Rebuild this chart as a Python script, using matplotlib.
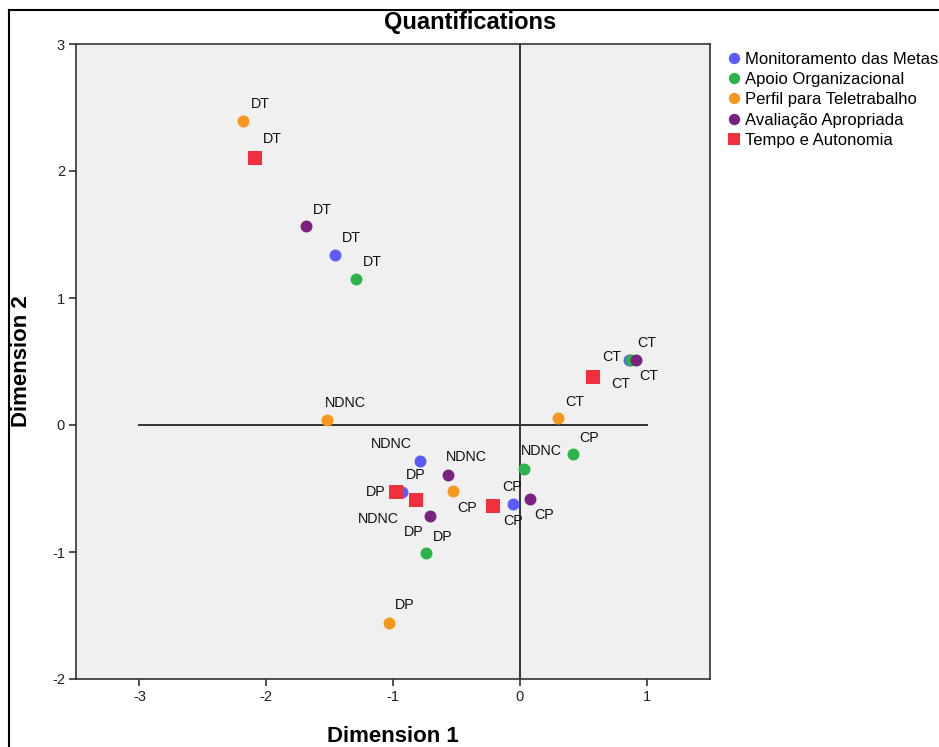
#!/usr/bin/env python3
"""Quantifications plot (category points for two dimensions)."""

import matplotlib

matplotlib.use("Agg")
import matplotlib.pyplot as plt
from matplotlib.lines import Line2D

plt.rcParams["font.family"] = ["Liberation Sans", "DejaVu Sans"]
plt.rcParams["axes.unicode_minus"] = False

# category labels, same order for every variable
CATEGORIES = ["DT", "CT", "NDNC", "CP", "DP"]

MONITORAMENTO_X = [-1.46, 0.86, -0.79, -0.05, -0.93]
MONITORAMENTO_Y = [1.335, 0.515, -0.28, -0.62, -0.53]

APOIO_X = [-1.29, 0.88, 0.03, 0.42, -0.74]
APOIO_Y = [1.15, 0.515, -0.345, -0.23, -1.01]

PERFIL_X = [-2.18, 0.30, -1.52, -0.53, -1.03]
PERFIL_Y = [2.39, 0.053, 0.04, -0.52, -1.56]

AVALIACAO_X = [-1.69, 0.92, -0.565, 0.08, -0.705]
AVALIACAO_Y = [1.57, 0.515, -0.39, -0.585, -0.72]

TEMPO_X = [-2.09, 0.58, -0.815, -0.21, -0.98]
TEMPO_Y = [2.10, 0.38, -0.59, -0.64, -0.524]

# (name, x, y, colour, marker, label offsets in pixels per category)
SERIES = [
    ("Monitoramento das Metas", MONITORAMENTO_X, MONITORAMENTO_Y, "#5b5bff", "o",
     [(17, 17), (-17, 3), (-28, 17), (0, -17), (14, 17)]),
    ("Apoio Organizacional", APOIO_X, APOIO_Y, "#2bb44a", "o",
     [(16, 17), (15, 17), (18, 18), (16, 16), (17, 16)]),
    ("Perfil para Teletrabalho", PERFIL_X, PERFIL_Y, "#f7971d", "o",
     [(17, 17), (17, 16), (18, 17), (15, -17), (16, 18)]),
    ("Avaliação Apropriada", AVALIACAO_X, AVALIACAO_Y, "#7b2181", "o",
     [(17, 16), (12, -16), (18, 18), (14, -16), (-17, -16)]),
    ("Tempo e Autonomia", TEMPO_X, TEMPO_Y, "#f0313d", "s",
     [(18, 19), (27, -7), (-38, -19), (19, 19), (-20, 0)]),
]


def main() -> None:
    fig = plt.figure(figsize=(9.39, 7.47), dpi=100)
    ax = fig.add_axes([76 / 939, 68 / 747, 634 / 939, 635 / 747])
    ax.set_facecolor("#f0f0f0")

    # reference lines through the origin
    ax.plot([-3, 1], [0, 0], color="#333333", linewidth=1.4, zorder=1)
    ax.axvline(0, color="#333333", linewidth=1.4, zorder=1)

    handles = []
    for name, xs, ys, color, marker, offsets in SERIES:
        size = 9.8 if marker == "s" else 8.6
        ax.scatter(xs, ys, s=size ** 2, c=color, marker=marker,
                   linewidths=0, zorder=3)
        for cat, x, y, (dx, dy) in zip(CATEGORIES, xs, ys, offsets):
            ax.annotate(cat, (x, y), xytext=(dx, dy), textcoords="offset pixels",
                        ha="center", va="center", fontsize=10.3, color="#111111",
                        zorder=4)
        handles.append(Line2D([], [], linestyle="none", marker=marker,
                              markersize=size * 0.95, markerfacecolor=color,
                              markeredgewidth=0, label=name))

    ax.set_xlim(-3.5, 1.5)
    ax.set_ylim(-2, 3)
    ax.set_xticks([-3, -2, -1, 0, 1])
    ax.set_yticks([-2, -1, 0, 1, 2, 3])
    ax.tick_params(length=5, width=1.2, color="#333333", labelsize=10.5,
                   labelcolor="#222222", pad=3)
    for spine in ax.spines.values():
        spine.set_color("#333333")
        spine.set_linewidth(1.2)

    fig.text(393 / 939, 1 - 737 / 747, "Dimension 1", ha="center", va="center",
             fontsize=16, fontweight="bold")
    fig.text(22 / 939, 1 - 361 / 747, "Dimension 2", ha="center", va="center",
             rotation=90, fontsize=16, fontweight="bold")
    fig.text(470 / 939, 1 - 23 / 747, "Quantifications", ha="center", va="center",
             fontsize=17, fontweight="bold")

    fig.legend(handles=handles, loc="upper left",
               bbox_to_anchor=(722 / 939, 1 - 45 / 747), frameon=False,
               fontsize=12, handlelength=0.6, handletextpad=0.4,
               labelspacing=0.32, borderaxespad=0)

    # outer frame (left and top edges only are visible in the crop)
    fig.add_artist(Line2D([9 / 939, 9 / 939], [-0.1, 1 - 10 / 747],
                          transform=fig.transFigure, color="black", linewidth=1.5))
    fig.add_artist(Line2D([9 / 939, 1.1], [1 - 10 / 747, 1 - 10 / 747],
                          transform=fig.transFigure, color="black", linewidth=1.5))

    fig.savefig("out.png", dpi=100)
    plt.close(fig)


if __name__ == "__main__":
    main()
